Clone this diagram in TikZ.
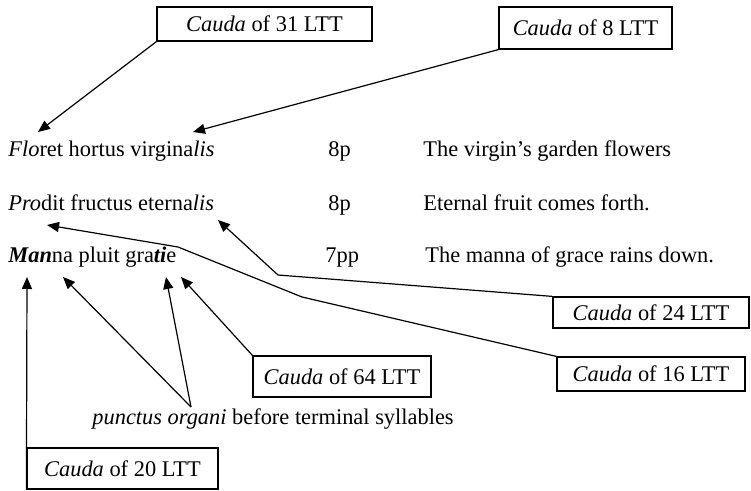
\documentclass[tikz,border=0pt]{standalone}
\usepackage{fontspec}
\setmainfont{Liberation Serif}
\usetikzlibrary{arrows.meta}

\newcommand{\lblfont}{\fontsize{11.2}{13}\selectfont}
\newcommand{\txn}{\node[anchor=base west, inner sep=0pt, font=\lblfont]}
\newcommand{\cbx}[2]{\node[draw, line width=0.6pt, inner sep=0pt, font=\lblfont, minimum width=#1*0.5pt, minimum height=#2*0.5pt]}
\tikzset{cue/.style={line width=0.6pt, -{Triangle[length=6pt, width=5pt]}}}

\begin{document}
\begin{tikzpicture}[x=0.5pt, y=-0.5pt]
            \useasboundingbox (0,0) rectangle (751,491);

            % verse lines
            \txn (l1) at (8,157) {\textit{Flo}ret hortus virgina\textit{lis}};
            \txn (l2) at (8,211) {\textit{Pro}dit fructus eterna\textit{lis}};
            \txn (l3) at (8,263) {\textbf{\textit{Man}}na pluit gra\textbf{\textit{ti}}e};
            \txn (s1) at (328,157) {8p};
            \txn (s2) at (328,211) {8p};
            \txn (s3) at (325,263) {7pp};
            \txn (e1) at (423,157) {The virgin’s garden flowers};
            \txn (e2) at (423,211) {Eternal fruit comes forth.};
            \txn (e3) at (425,263) {The manna of grace rains down.};
            \txn (po) at (92,425) {\textit{punctus organi} before terminal syllables};

            % caudae
            \cbx{215}{34} (c31) at (264.5,24) {\textit{Cauda} of 31 LTT};
            \cbx{173}{42} (c8) at (585.5,28) {\textit{Cauda} of 8 LTT};
            \cbx{196}{31} (c24) at (651,312.5) {\textit{Cauda} of 24 LTT};
            \cbx{188}{34} (c16) at (651,374) {\textit{Cauda} of 16 LTT};
            \cbx{178}{41} (c64) at (342,376.5) {\textit{Cauda} of 64 LTT};
            \cbx{191}{41} (c20) at (122.5,468.5) {\textit{Cauda} of 20 LTT};

            \coordinate (t31) at (38,132);
            \coordinate (t8) at (193,132);
            \coordinate (t24) at (218,220);
            \coordinate (b24) at (278,275);
            \coordinate (t16) at (47,225);
            \coordinate (b16a) at (302,297);
            \coordinate (b16b) at (178,247);
            \coordinate (t64) at (181,277);
            \coordinate (t20) at (27,277);
            \coordinate (tp1) at (63,277);
            \coordinate (tp2) at (166,277);
            \coordinate (pf) at (191,407);

            \draw[cue] (c31.south west) -- (t31);
            \draw[cue] (c8.south west) -- (t8);
            \draw[cue] (c24.north west) -- (b24) -- (t24);
            \draw[cue] (c16.north west) -- (b16a) -- (b16b) -- (t16);
            \draw[cue] (c64.north west) -- (t64);
            \draw[cue] (c20.south west) -- (t20);
            \draw[cue] (pf) -- (tp1);
            \draw[cue] (pf) -- (tp2);
        \end{tikzpicture}
\end{document}
